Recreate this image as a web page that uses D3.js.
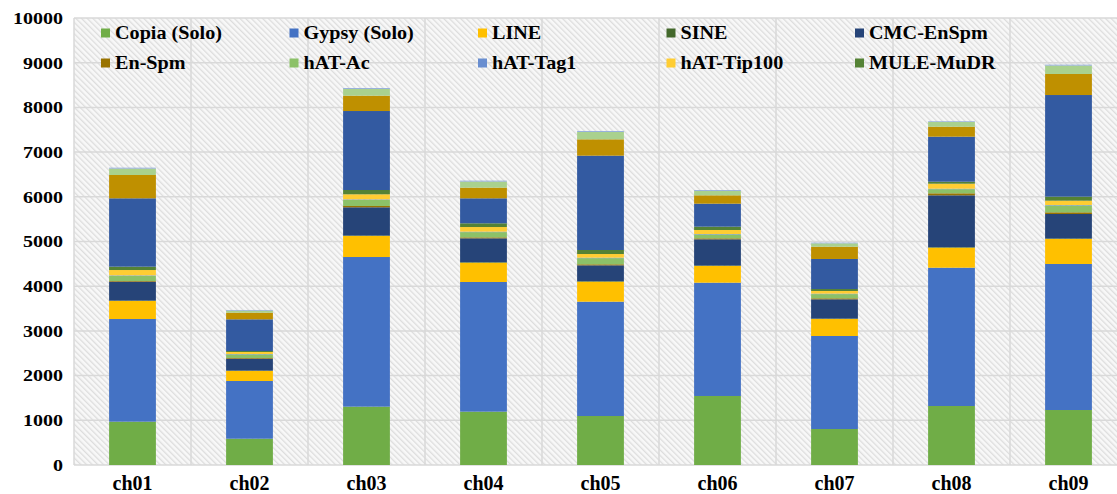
<!DOCTYPE html>
<html>
<head>
<meta charset="utf-8">
<script src="https://cdn.jsdelivr.net/npm/d3@7"></script>
<style>
  html, body { margin: 0; padding: 0; background: #ffffff; }
  svg { display: block; }
</style>
</head>
<body>
<svg id="chart" width="1117" height="494"></svg>
<script>
// ---- data ----
const categories = ["ch01", "ch02", "ch03", "ch04", "ch05", "ch06", "ch07", "ch08", "ch09"];
const seriesNames = ["Copia (Solo)", "Gypsy (Solo)", "LINE", "SINE", "CMC-EnSpm", "En-Spm",
  "hAT-Ac", "hAT-Tag1", "hAT-Tip100", "MULE-MuDR", "PIF-Harbinger", "Tc1-Mariner", "Helitron", "Other"];
const legendNames = ["Copia (Solo)", "Gypsy (Solo)", "LINE", "SINE", "CMC-EnSpm",
  "En-Spm", "hAT-Ac", "hAT-Tag1", "hAT-Tip100", "MULE-MuDR"];
const seriesColors = ["#70AD47", "#4472C4", "#FFC000", "#43682B", "#264478", "#997300",
  "#8CC168", "#698ED0", "#FFCD33", "#548235", "#335AA1", "#BF9000", "#A9D18E", "#8FAADC"];

const copia      = [969, 588, 1305, 1193, 1096, 1544, 805, 1320, 1230];
const gypsy      = [2297, 1291, 3348, 2901, 2558, 2535, 2081, 3094, 3267];
const line       = [403, 224, 470, 432, 447, 373, 380, 448, 559];
const sine       = [10, 10, 12, 12, 12, 12, 10, 12, 12];
const cmcEnSpm   = [422, 266, 630, 533, 354, 585, 431, 1159, 547];
const enSpm      = [15, 15, 29, 22, 23, 22, 22, 45, 38];
const hatAc      = [117, 81, 140, 117, 138, 87, 94, 93, 154];
const hatTag1    = [10, 8, 10, 10, 10, 10, 10, 10, 10];
const hatTip100  = [119, 45, 112, 104, 82, 89, 60, 112, 96];
const muleMuDR   = [75, 22, 96, 83, 90, 75, 44, 45, 90];
const pifHarb    = [1529, 709, 1767, 559, 2110, 514, 672, 1007, 2274];
const tc1Mariner = [522, 149, 343, 239, 366, 187, 275, 224, 470];
const helitron   = [143, 45, 152, 136, 166, 100, 75, 105, 189];
const other      = [20, 15, 20, 20, 20, 19, 15, 15, 20];

const yTicks = [0, 1000, 2000, 3000, 4000, 5000, 6000, 7000, 8000, 9000, 10000];

const seriesValues = [copia, gypsy, line, sine, cmcEnSpm, enSpm, hatAc, hatTag1, hatTip100,
  muleMuDR, pifHarb, tc1Mariner, helitron, other];

// ---- build table ----
const table = categories.map((c, i) => {
  const row = { cat: c };
  seriesNames.forEach((s, j) => { row[s] = seriesValues[j][i]; });
  return row;
});
const stacked = d3.stack().keys(seriesNames)(table);

// ---- layout ----
const FONT = "'Liberation Serif', 'Times New Roman', 'DejaVu Serif', serif";
const svg = d3.select("#chart");
const plotLeft = 74, plotTop = 18, plotBottom = 465, step = 117;
const plotRight = plotLeft + step * categories.length;

const x = d3.scaleBand().domain(categories).range([plotLeft, plotRight])
  .paddingInner(0.6).paddingOuter(0.3);
const y = d3.scaleLinear().domain([0, 10000]).range([plotBottom, plotTop]);
const color = d3.scaleOrdinal().domain(seriesNames).range(seriesColors);

// hatch pattern background
const defs = svg.append("defs");
const pat = defs.append("pattern").attr("id", "hatch").attr("patternUnits", "userSpaceOnUse")
  .attr("width", 4).attr("height", 4).attr("patternTransform", "rotate(-45)");
pat.append("rect").attr("width", 4).attr("height", 4).attr("fill", "#F8F8F8");
pat.append("rect").attr("width", 1.3).attr("height", 4).attr("fill", "#DDDDDD");

svg.append("rect").attr("x", plotLeft).attr("y", plotTop)
  .attr("width", plotRight - plotLeft).attr("height", plotBottom - plotTop)
  .attr("fill", "url(#hatch)");

// gridlines
svg.append("g").selectAll("line").data(yTicks.filter(d => d > 0)).join("line")
  .attr("x1", plotLeft).attr("x2", plotRight)
  .attr("y1", d => y(d)).attr("y2", d => y(d))
  .attr("stroke", "#D9D9D9").attr("stroke-width", 1.5);

const bounds = categories.map(c => x(c) - x.step() * x.paddingInner() / 2);
svg.append("g").selectAll("line").data(bounds).join("line")
  .attr("x1", d => d).attr("x2", d => d)
  .attr("y1", plotTop).attr("y2", plotBottom)
  .attr("stroke", "#D9D9D9").attr("stroke-width", 1.5);

// axis line
svg.append("line").attr("x1", plotLeft).attr("x2", plotRight)
  .attr("y1", plotBottom).attr("y2", plotBottom).attr("stroke", "#D9D9D9").attr("stroke-width", 1.5);

// bars
svg.append("g").selectAll("g").data(stacked).join("g")
  .attr("fill", d => color(d.key))
  .selectAll("rect").data(d => d).join("rect")
  .attr("x", d => x(d.data.cat))
  .attr("width", x.bandwidth())
  .attr("y", d => y(d[1]))
  .attr("height", d => y(d[0]) - y(d[1]));

// y tick labels
const yAxis = d3.axisLeft(y).tickValues(yTicks).tickFormat(d3.format("d")).tickSize(0).tickPadding(0);
const gy = svg.append("g").attr("transform", "translate(63,0)").call(yAxis)
  .attr("font-family", null).attr("font-size", null);
gy.select(".domain").remove();
gy.selectAll("text")
  .attr("x", 0).attr("dy", null)
  .attr("dominant-baseline", "central")
  .style("font-family", FONT).style("font-weight", "bold")
  .style("font-size", "16px").attr("fill", "#000")
  .attr("transform", d => `translate(0,${y(d)}) scale(1.25,1) translate(0,${-y(d)})`);

// x labels
const xAxis = d3.axisBottom(x).tickSize(0).tickPadding(0);
const gx = svg.append("g").attr("transform", `translate(0,${plotBottom})`).call(xAxis)
  .attr("font-family", null).attr("font-size", null);
gx.select(".domain").remove();
gx.selectAll("text").attr("y", 25).attr("dy", null)
  .style("font-family", FONT).style("font-weight", "bold")
  .style("font-size", "20px").attr("fill", "#000");

// legend
const legend = svg.append("g");
const items = legend.selectAll("g").data(legendNames).join("g")
  .attr("transform", (d, i) => `translate(${101 + (i % 5) * 188.5},${i < 5 ? 33 : 63})`);
items.append("rect").attr("x", 0).attr("y", -4.5).attr("width", 9).attr("height", 9)
  .attr("fill", d => color(d));
items.append("text").attr("x", 0).attr("y", 0)
  .attr("dominant-baseline", "central")
  .attr("transform", "translate(14,0) scale(1.12,1)")
  .style("font-family", FONT).style("font-weight", "bold")
  .style("font-size", "18px").attr("fill", "#000")
  .text(d => d);
</script>
</body>
</html>
